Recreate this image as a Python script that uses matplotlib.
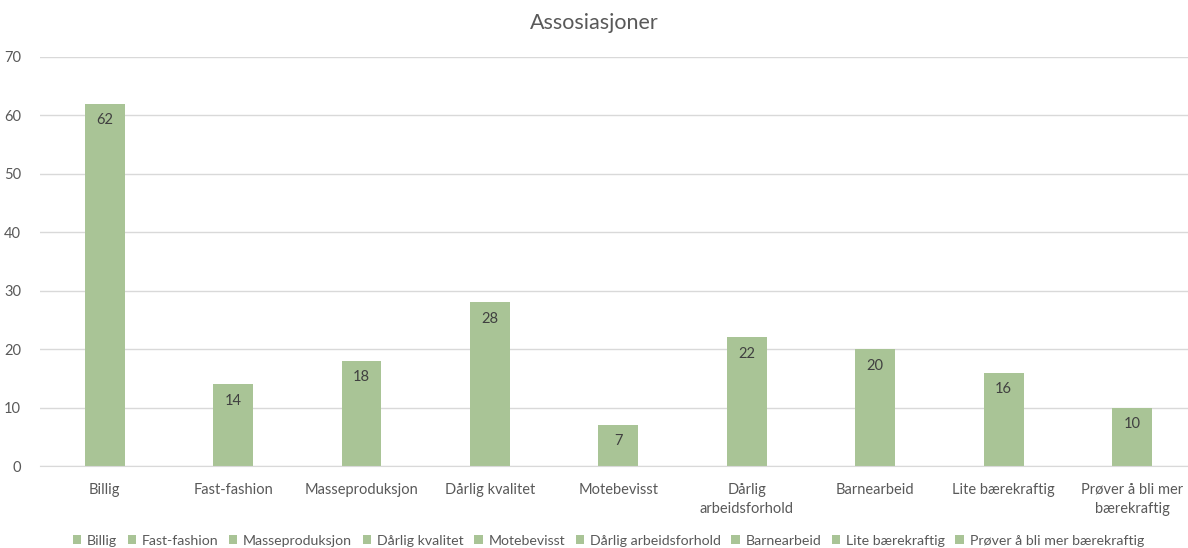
import matplotlib
matplotlib.use("Agg")
import matplotlib.pyplot as plt
from matplotlib.patches import Patch

plt.rcParams['font.family'] = ['Lato', 'DejaVu Sans']

# data
categories = ['Billig', 'Fast-fashion', 'Masseproduksjon', 'Dårlig kvalitet', 'Motebevisst',
              'Dårlig arbeidsforhold', 'Barnearbeid', 'Lite bærekraftig', 'Prøver å bli mer bærekraftig']
tick_labels = ['Billig', 'Fast-fashion', 'Masseproduksjon', 'Dårlig kvalitet', 'Motebevisst',
               'Dårlig\narbeidsforhold', 'Barnearbeid', 'Lite bærekraftig', 'Prøver å bli mer\nbærekraftig']
values = [62, 14, 18, 28, 7, 22, 20, 16, 10]

bar_color = '#A9C496'
text_color = '#595959'
grid_color = '#D9D9D9'

fig = plt.figure(figsize=(11.88, 5.48), dpi=100)
ax = fig.add_axes([0.034, 0.1496, 0.973, 0.7464])

x = list(range(len(categories)))
ax.bar(x, values, width=0.31, color=bar_color, zorder=2)

# data labels inside top of bars
for xi, v in zip(x, values):
    ax.text(xi, v - 1.6, str(v), ha='center', va='top', fontsize=10.5, color='#404040', zorder=3)

ax.set_xlim(-0.5, len(categories) - 0.5)
ax.set_ylim(0, 70)
ax.set_yticks(range(0, 71, 10))
ax.set_xticks(x)
ax.set_xticklabels(tick_labels, fontsize=10.5, color=text_color, linespacing=1.5)
ax.tick_params(axis='y', labelsize=10.5, colors=text_color, length=0, pad=14)
ax.tick_params(axis='x', length=0, pad=12)

ax.yaxis.grid(True, color=grid_color, linewidth=1, zorder=0)
ax.set_axisbelow(True)
for s in ['top', 'right', 'left']:
    ax.spines[s].set_visible(False)
ax.spines['bottom'].set_color(grid_color)

fig.text(0.5, 0.958, 'Assosiasjoner', ha='center', va='center', fontsize=15.5, color=text_color)

handles = [Patch(facecolor=bar_color, label=c) for c in categories]
fig.legend(handles=handles, loc='center', bbox_to_anchor=(0.512, 0.013), ncol=len(categories),
           frameon=False, fontsize=10.2, handlelength=0.6, handleheight=0.6, handletextpad=0.4,
           columnspacing=0.75, labelcolor=text_color)

fig.savefig('out.png', dpi=100)
